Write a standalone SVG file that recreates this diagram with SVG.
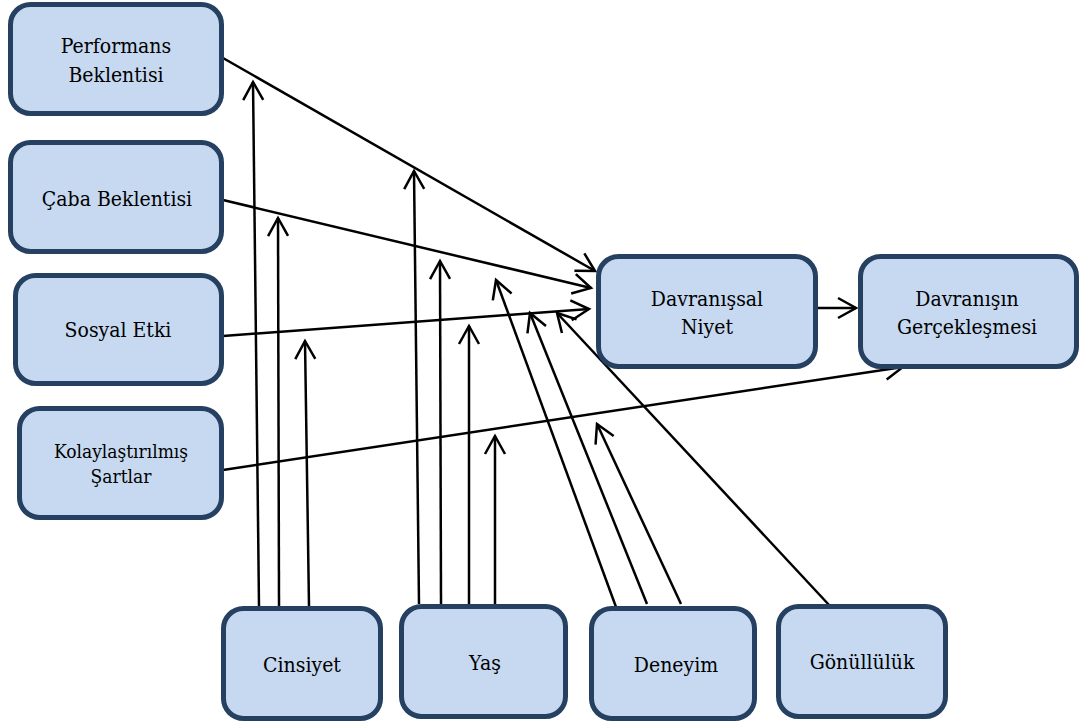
<svg xmlns="http://www.w3.org/2000/svg" width="1080" height="724" viewBox="0 0 1080 724">
  <style>
    .box { fill: #C6D9F0; stroke: #254061; stroke-width: 5; }
    text { font-family: 'DejaVu Serif Condensed', 'DejaVu Serif', serif; font-stretch: condensed; font-size: 21px; fill: #000; text-anchor: middle; }
    .sm { font-size: 19px; }
    .ln { stroke: #000; stroke-width: 2.5; fill: none; marker-end: url(#arr); }
  </style>
  <defs>
    <marker id="arr" markerUnits="userSpaceOnUse" markerWidth="30" markerHeight="30" refX="0" refY="0" viewBox="-20 -15 25 30" orient="auto" overflow="visible">
      <path d="M-18,-10 L0,0 L-18,10" fill="none" stroke="#000" stroke-width="2.5" stroke-linejoin="miter"/>
    </marker>
  </defs>
  <rect width="1080" height="724" fill="#fff"/>

  <!-- connectors -->
  <g id="connectors">
    <!-- main paths -->
    <line class="ln" x1="223" y1="58" x2="595" y2="271"/>
    <line class="ln" x1="223" y1="200" x2="591" y2="288"/>
    <line class="ln" x1="223" y1="336" x2="589" y2="309"/>
    <line class="ln" x1="223" y1="470" x2="903" y2="367"/>
    <line class="ln" x1="816" y1="308" x2="856" y2="308"/>
    <!-- Cinsiyet -->
    <line class="ln" x1="259" y1="606" x2="253" y2="82"/>
    <line class="ln" x1="279" y1="606" x2="278" y2="218"/>
    <line class="ln" x1="309" y1="606" x2="305" y2="341"/>
    <!-- Yaş -->
    <line class="ln" x1="419" y1="604" x2="414" y2="171"/>
    <line class="ln" x1="441" y1="604" x2="440" y2="261"/>
    <line class="ln" x1="469" y1="604" x2="469" y2="326"/>
    <line class="ln" x1="495" y1="604" x2="495" y2="436"/>
    <!-- Deneyim -->
    <line class="ln" x1="616" y1="607" x2="496" y2="280"/>
    <line class="ln" x1="647" y1="604" x2="530" y2="313"/>
    <line class="ln" x1="681" y1="604" x2="597" y2="424"/>
    <!-- Gönüllülük -->
    <line class="ln" x1="830" y1="606" x2="557" y2="313"/>
  </g>

  <g id="performans">
    <rect class="box" x="10.5" y="4.5" width="211" height="109" rx="20"/>
    <text x="116" y="53">Performans</text>
    <text x="116" y="82">Beklentisi</text>
  </g>
  <g id="caba">
    <rect class="box" x="10.5" y="142.5" width="211" height="109" rx="20"/>
    <text x="117" y="206">Çaba Beklentisi</text>
  </g>
  <g id="sosyal">
    <rect class="box" x="15.5" y="275.5" width="206" height="108" rx="20"/>
    <text x="118" y="337">Sosyal Etki</text>
  </g>
  <g id="kolay">
    <rect class="box" x="19.5" y="408.5" width="202" height="109" rx="20"/>
    <text class="sm" x="121" y="458">Kolaylaştırılmış</text>
    <text class="sm" x="121" y="483">Şartlar</text>
  </g>
  <g id="niyet">
    <rect class="box" x="598.5" y="256.5" width="217" height="110" rx="20"/>
    <text x="707" y="306">Davranışsal</text>
    <text x="707" y="334">Niyet</text>
  </g>
  <g id="gerceklesme">
    <rect class="box" x="860.5" y="256.5" width="216" height="110" rx="20"/>
    <text x="967" y="306">Davranışın</text>
    <text x="967" y="334">Gerçekleşmesi</text>
  </g>
  <g id="cinsiyet">
    <rect class="box" x="223.5" y="608.5" width="157" height="110" rx="20"/>
    <text x="302" y="672">Cinsiyet</text>
  </g>
  <g id="yas">
    <rect class="box" x="401.5" y="606.5" width="164" height="110" rx="20"/>
    <text x="485" y="670">Yaş</text>
  </g>
  <g id="deneyim">
    <rect class="box" x="591.5" y="608.5" width="163" height="110" rx="20"/>
    <text x="676" y="672">Deneyim</text>
  </g>
  <g id="gonulluluk">
    <rect class="box" x="778.5" y="606.5" width="167" height="110" rx="20"/>
    <text x="862" y="669">Gönüllülük</text>
  </g>
</svg>
